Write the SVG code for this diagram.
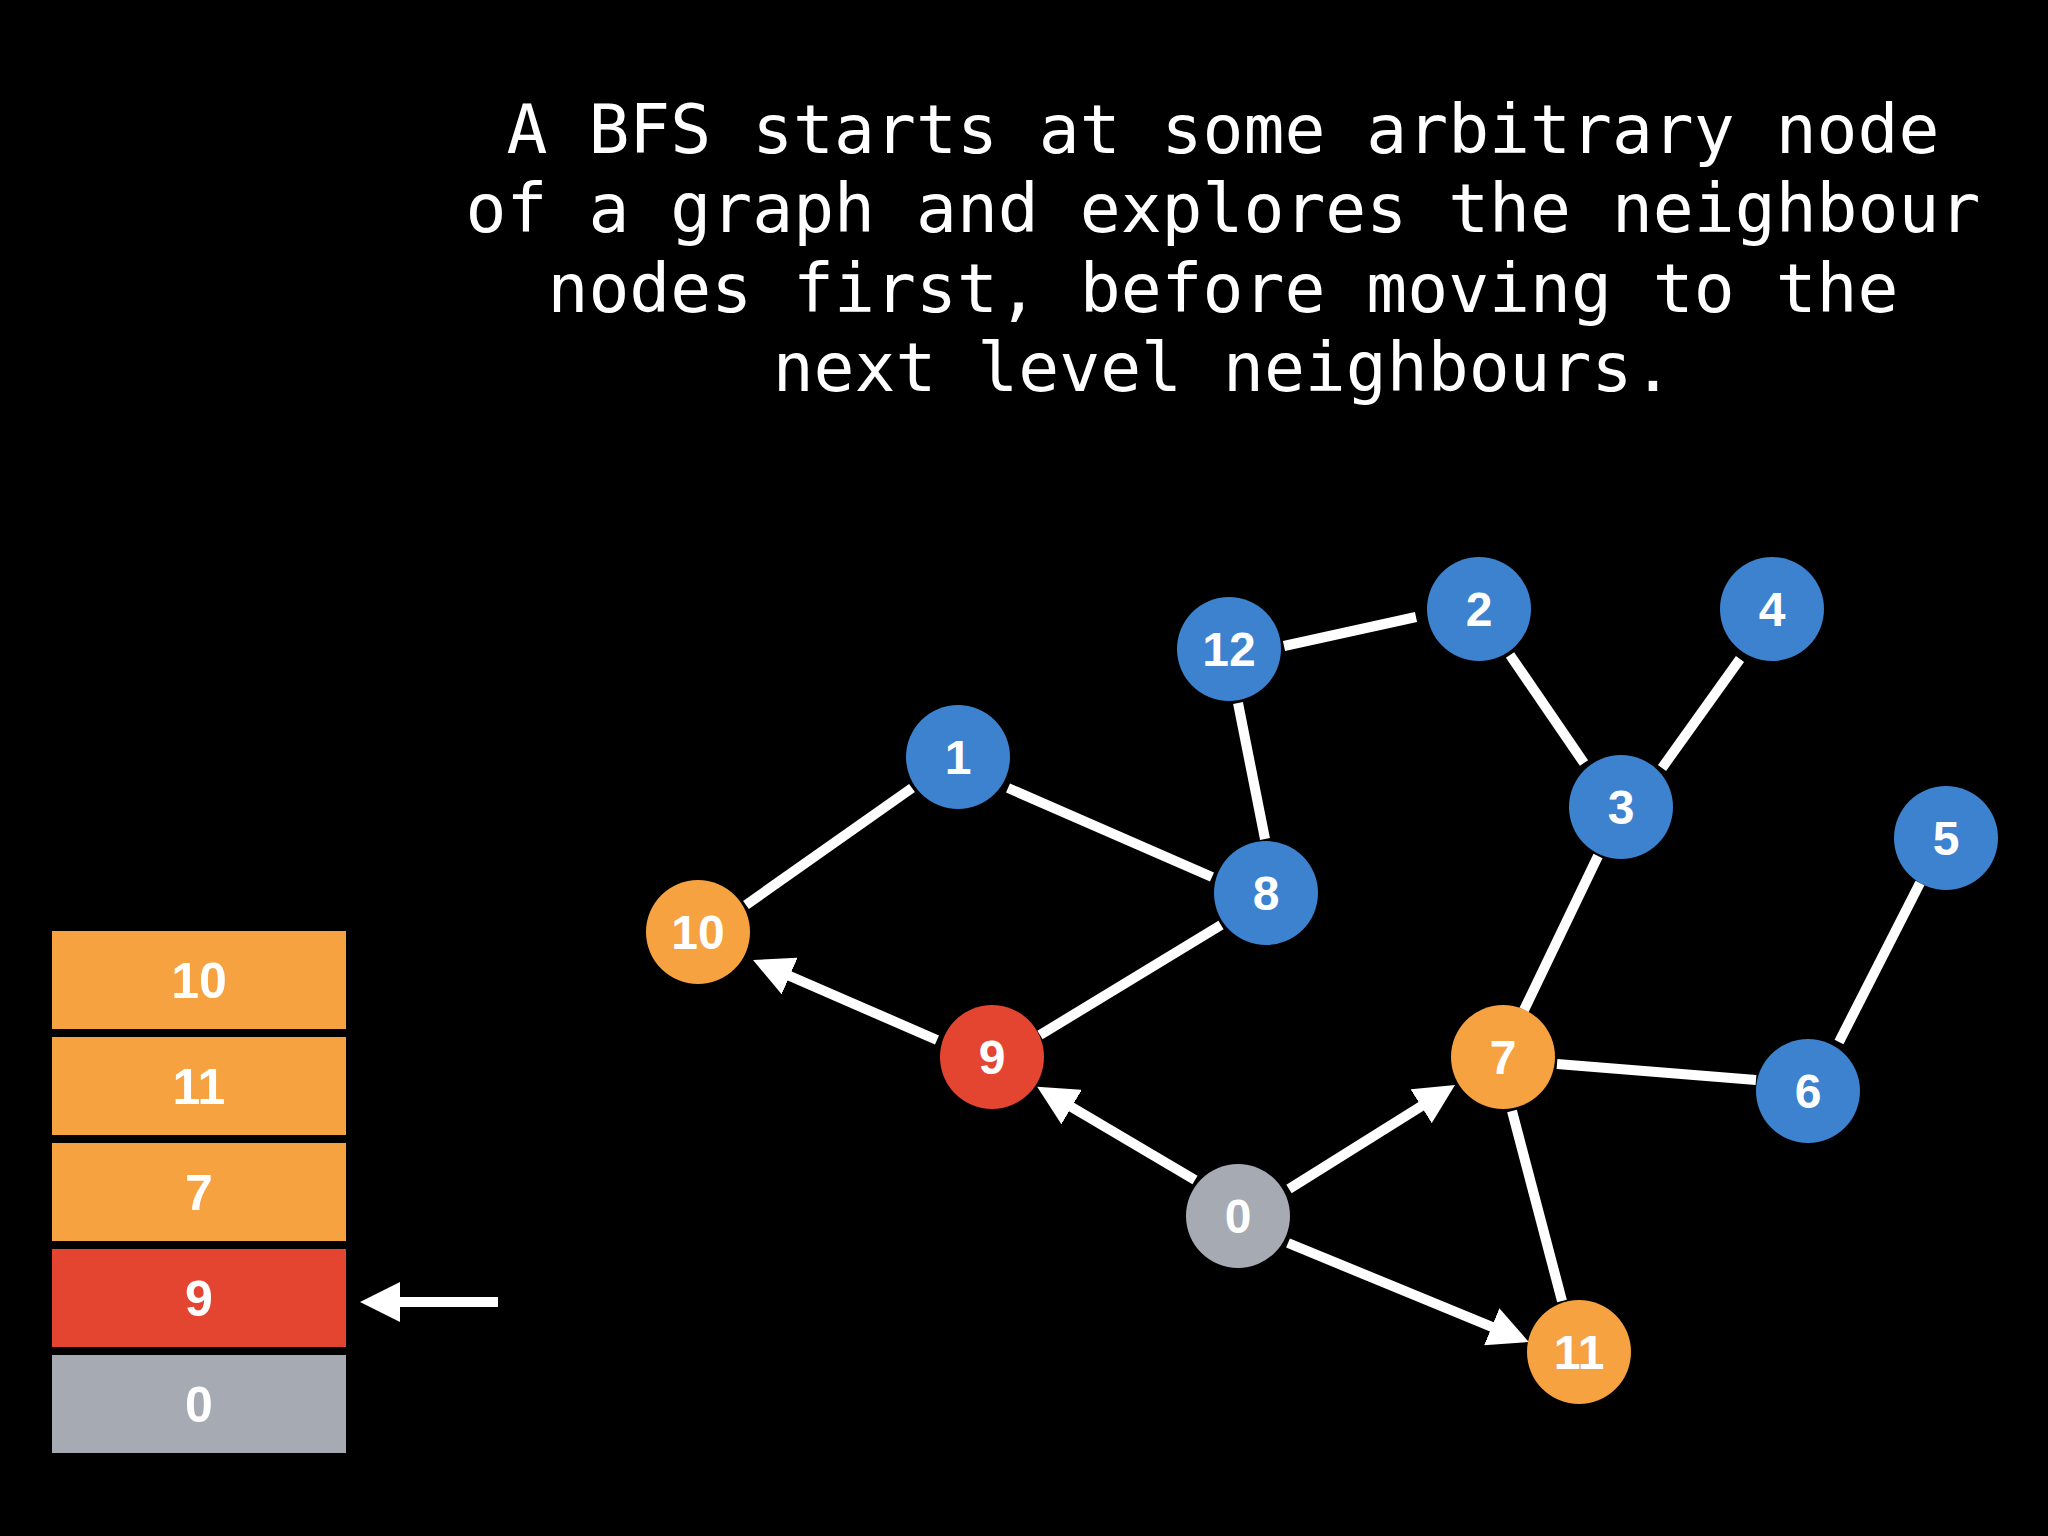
<svg xmlns="http://www.w3.org/2000/svg" width="2048" height="1536" viewBox="0 0 2048 1536">
<defs>
<style>
.title{font-family:"DejaVu Sans Mono","Liberation Mono",monospace;font-size:68px;fill:#fff;text-anchor:middle}
.lbl{font-family:"Liberation Sans",Arial,sans-serif;font-weight:bold;font-size:48px;fill:#fff;text-anchor:middle}
.qlbl{font-family:"Liberation Sans",Arial,sans-serif;font-weight:bold;font-size:50px;fill:#fff;text-anchor:middle}
.edge{stroke:#fff;stroke-width:10;fill:none}
.arr{stroke:#fff;stroke-width:10;fill:none;marker-end:url(#ah)}
.blue{fill:#3C82CF}
.orange{fill:#F6A240}
.red{fill:#E44530}
.grey{fill:#A5AAB3}
</style>
<marker id="ah" viewBox="0 0 40 40" markerUnits="userSpaceOnUse" markerWidth="40" markerHeight="40" refX="10" refY="20" orient="auto">
<path d="M0,0 L40,20 L0,40 Z" fill="#fff"/>
</marker>
</defs>
<rect width="2048" height="1536" fill="#000"/>
<g id="title">
<text class="title" x="1223" y="153">A BFS starts at some arbitrary node</text>
<text class="title" x="1223" y="232">of a graph and explores the neighbour</text>
<text class="title" x="1223" y="312">nodes first, before moving to the</text>
<text class="title" x="1223" y="391">next level neighbours.</text>
</g>
<g id="connectors">
<line class="edge" x1="746" y1="905" x2="912" y2="788"/>
<line class="edge" x1="1008" y1="788" x2="1212" y2="877"/>
<line class="edge" x1="1238" y1="703" x2="1265" y2="839"/>
<line class="edge" x1="1221" y1="925" x2="1040" y2="1035"/>
<line class="edge" x1="1284" y1="646" x2="1416" y2="617"/>
<line class="edge" x1="1510" y1="655" x2="1584" y2="763"/>
<line class="edge" x1="1740" y1="659" x2="1662" y2="768"/>
<line class="edge" x1="1598" y1="856" x2="1524" y2="1010"/>
<line class="edge" x1="1920" y1="883" x2="1839" y2="1042"/>
<line class="edge" x1="1557" y1="1064" x2="1756" y2="1080"/>
<line class="edge" x1="1512" y1="1111" x2="1562" y2="1301"/>
<line class="arr" x1="937" y1="1040" x2="780.5" y2="972"/>
<line class="arr" x1="1195" y1="1180" x2="1063" y2="1102"/>
<line class="arr" x1="1289" y1="1189" x2="1429.6" y2="1100.9"/>
<line class="arr" x1="1288" y1="1243" x2="1501" y2="1330.6"/>
<line class="arr" x1="498" y1="1302" x2="390" y2="1302"/>
</g>
<g id="node-0"><circle class="grey" cx="1238" cy="1216" r="52"/><text class="lbl" x="1238" y="1233">0</text></g>
<g id="node-1"><circle class="blue" cx="958" cy="757" r="52"/><text class="lbl" x="958" y="774">1</text></g>
<g id="node-2"><circle class="blue" cx="1479" cy="609" r="52"/><text class="lbl" x="1479" y="626">2</text></g>
<g id="node-3"><circle class="blue" cx="1621" cy="807" r="52"/><text class="lbl" x="1621" y="824">3</text></g>
<g id="node-4"><circle class="blue" cx="1772" cy="609" r="52"/><text class="lbl" x="1772" y="626">4</text></g>
<g id="node-5"><circle class="blue" cx="1946" cy="838" r="52"/><text class="lbl" x="1946" y="855">5</text></g>
<g id="node-6"><circle class="blue" cx="1808" cy="1091" r="52"/><text class="lbl" x="1808" y="1108">6</text></g>
<g id="node-7"><circle class="orange" cx="1503" cy="1057" r="52"/><text class="lbl" x="1503" y="1074">7</text></g>
<g id="node-8"><circle class="blue" cx="1266" cy="893" r="52"/><text class="lbl" x="1266" y="910">8</text></g>
<g id="node-9"><circle class="red" cx="992" cy="1057" r="52"/><text class="lbl" x="992" y="1074">9</text></g>
<g id="node-10"><circle class="orange" cx="698" cy="932" r="52"/><text class="lbl" x="698" y="949">10</text></g>
<g id="node-11"><circle class="orange" cx="1579" cy="1352" r="52"/><text class="lbl" x="1579" y="1369">11</text></g>
<g id="node-12"><circle class="blue" cx="1229" cy="649" r="52"/><text class="lbl" x="1229" y="666">12</text></g>
<g id="queue">
<g id="q-10"><rect class="orange" x="52" y="931" width="294" height="98"/><text class="qlbl" x="199" y="998">10</text></g>
<g id="q-11"><rect class="orange" x="52" y="1037" width="294" height="98"/><text class="qlbl" x="199" y="1104">11</text></g>
<g id="q-7"><rect class="orange" x="52" y="1143" width="294" height="98"/><text class="qlbl" x="199" y="1210">7</text></g>
<g id="q-9"><rect class="red" x="52" y="1249" width="294" height="98"/><text class="qlbl" x="199" y="1316">9</text></g>
<g id="q-0"><rect class="grey" x="52" y="1355" width="294" height="98"/><text class="qlbl" x="199" y="1422">0</text></g>
</g>
</svg>
